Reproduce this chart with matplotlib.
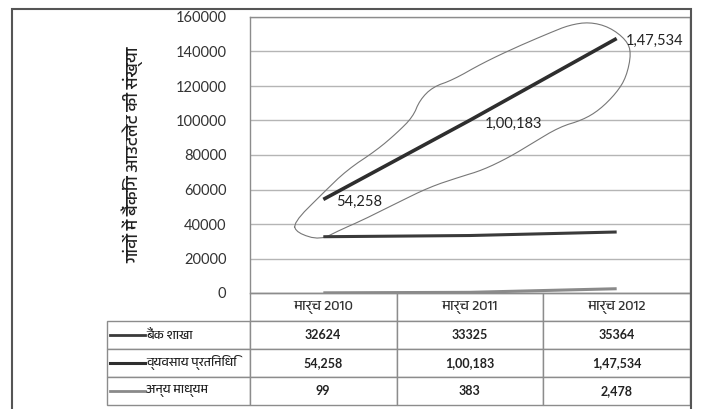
import matplotlib
matplotlib.use("Agg")
import matplotlib.pyplot as plt
from matplotlib import font_manager
from matplotlib.patches import Rectangle

# data
categories = ["मार्च 2010", "मार्च 2011", "मार्च 2012"]
series_names = ["बैंक शाखा", "व्यवसाय प्रतिनिधि", "अन्य माध्यम"]
bank_branch = [32624, 33325, 35364]
business_corr = [54258, 100183, 147534]
other_modes = [99, 383, 2478]
table_text = [
    ["32624", "33325", "35364"],
    ["54,258", "1,00,183", "1,47,534"],
    ["99", "383", "2,478"],
]
y_ticks = [0, 20000, 40000, 60000, 80000, 100000, 120000, 140000, 160000]
y_label = "गांवों में बैंकिंग आउटलेट की संख्या"

# hand drawn loop round the business correspondent line (category pos, value)
loop_x = [-0.206, -0.179, -0.022, 0.114, 0.270, 0.501, 0.726, 0.930, 1.087, 1.270,
          1.427, 1.610, 1.767, 1.882, 1.998, 2.066, 2.100, 2.066, 1.950, 1.814,
          1.678, 1.542, 1.318, 1.087, 0.882, 0.746, 0.658, 0.610, 0.501, 0.365,
          0.161, -0.002]
loop_y = [40580, 34780, 30720, 36520, 42320, 52170, 61450, 67250, 71300, 78840,
          86960, 96230, 100290, 106090, 115940, 125220, 139130, 146670, 154200, 157100,
          155360, 150730, 142610, 133330, 123480, 119420, 111880, 102030, 92750, 82900,
          71300, 57970]

names = {f.name for f in font_manager.fontManager.ttflist}
deva = [n for n in sorted(names) if "Devanagari" in n]
hindi = deva[:1] + ["DejaVu Sans"]
latin = "Lato" if "Lato" in names else "DejaVu Sans"
narrow = "Liberation Sans Narrow" if "Liberation Sans Narrow" in names else latin

W, H = 701, 409
fig = plt.figure(figsize=(W / 100, H / 100), dpi=100)
ax = fig.add_axes([250 / W, 1 - 293 / H, 440 / W, 276 / H])

x = list(range(len(categories)))
ax.plot(x, bank_branch, color="#3a3a3a", lw=2.2, solid_capstyle="butt", zorder=3)
ax.plot(x, business_corr, color="#2e2e2e", lw=2.6, solid_capstyle="butt", zorder=3)
ax.plot(x, other_modes, color="#8a8a8a", lw=2.2, solid_capstyle="butt", zorder=3)

# data labels
offsets = [(13, -2), (15, -4), (9, -2)]
for xi, yi, txt, off in zip(x, business_corr, table_text[1], offsets):
    ax.annotate(txt, (xi, yi), xytext=off, textcoords="offset pixels",
                ha="left", va="center", fontsize=10.5, family=latin, color="#222")

# smooth the loop a little (Chaikin)
px = loop_x + [loop_x[0]]
py = loop_y + [loop_y[0]]
for _ in range(2):
    nx, ny = [], []
    for i in range(len(px) - 1):
        nx += [0.75 * px[i] + 0.25 * px[i + 1], 0.25 * px[i] + 0.75 * px[i + 1]]
        ny += [0.75 * py[i] + 0.25 * py[i + 1], 0.25 * py[i] + 0.75 * py[i + 1]]
    px, py = nx + [nx[0]], ny + [ny[0]]
ax.plot(px, py, color="#777777", lw=0.8, zorder=2)

ax.set_xlim(-0.5, 2.5)
ax.set_ylim(0, 160000)
ax.set_yticks(y_ticks)
ax.set_yticklabels([str(v) for v in y_ticks], family=latin, fontsize=10.5, color="#333")
ax.set_xticks([])
ax.tick_params(axis="y", length=0, pad=17)
ax.grid(axis="y", color="#b5b5b5", lw=1)
ax.set_axisbelow(True)
for s in ax.spines.values():
    s.set_color("#8c8c8c")
    s.set_linewidth(1)
ax.set_ylabel(y_label, family=hindi, fontsize=12.5, fontweight="bold", color="#222")
ax.yaxis.set_label_coords((143 - 250) / 440, 0.5)

# data table under the plot
tb_left = (107 - 250) / 440
tb_h = 112 / 276
cells = [[""] + categories] + [[""] + row for row in table_text]
tab = ax.table(cellText=cells, cellLoc="center",
               colWidths=[143 / 584, 147 / 584, 147 / 584, 147 / 584],
               bbox=[tb_left, -tb_h, 1 - tb_left, tb_h])
tab.auto_set_font_size(False)
for (r, c), cell in tab.get_celld().items():
    cell.set_edgecolor("#8c8c8c")
    cell.set_linewidth(1)
    txt = cell.get_text()
    if r == 0:
        txt.set_fontfamily(hindi)
        txt.set_fontsize(10.5)
        txt.set_color("#333")
        if c == 0:
            cell.visible_edges = ""
    else:
        txt.set_fontfamily(narrow)
        txt.set_fontsize(9)
        txt.set_fontweight("bold")
        txt.set_color("#222")

row_h = tb_h / 4
key_colors = ["#3a3a3a", "#2e2e2e", "#8a8a8a"]
key_widths = [2.0, 2.2, 2.0]
for i, (name, col, lw) in enumerate(zip(series_names, key_colors, key_widths)):
    yc = -row_h * (i + 1.5)
    ax.plot([(110 - 250) / 440, (145 - 250) / 440], [yc, yc], color=col, lw=lw,
            transform=ax.transAxes, clip_on=False)
    ax.text((146 - 250) / 440, yc, name, transform=ax.transAxes, ha="left",
            va="center", family=hindi, fontsize=9, fontweight="bold", color="#222")

# outer frame
fig.patches.append(Rectangle((12 / W, -0.05), (691 - 12) / W, 1.05 - 9 / H,
                             transform=fig.transFigure, fill=False,
                             edgecolor="#555", lw=1.5))

fig.savefig("out.png", dpi=100)
